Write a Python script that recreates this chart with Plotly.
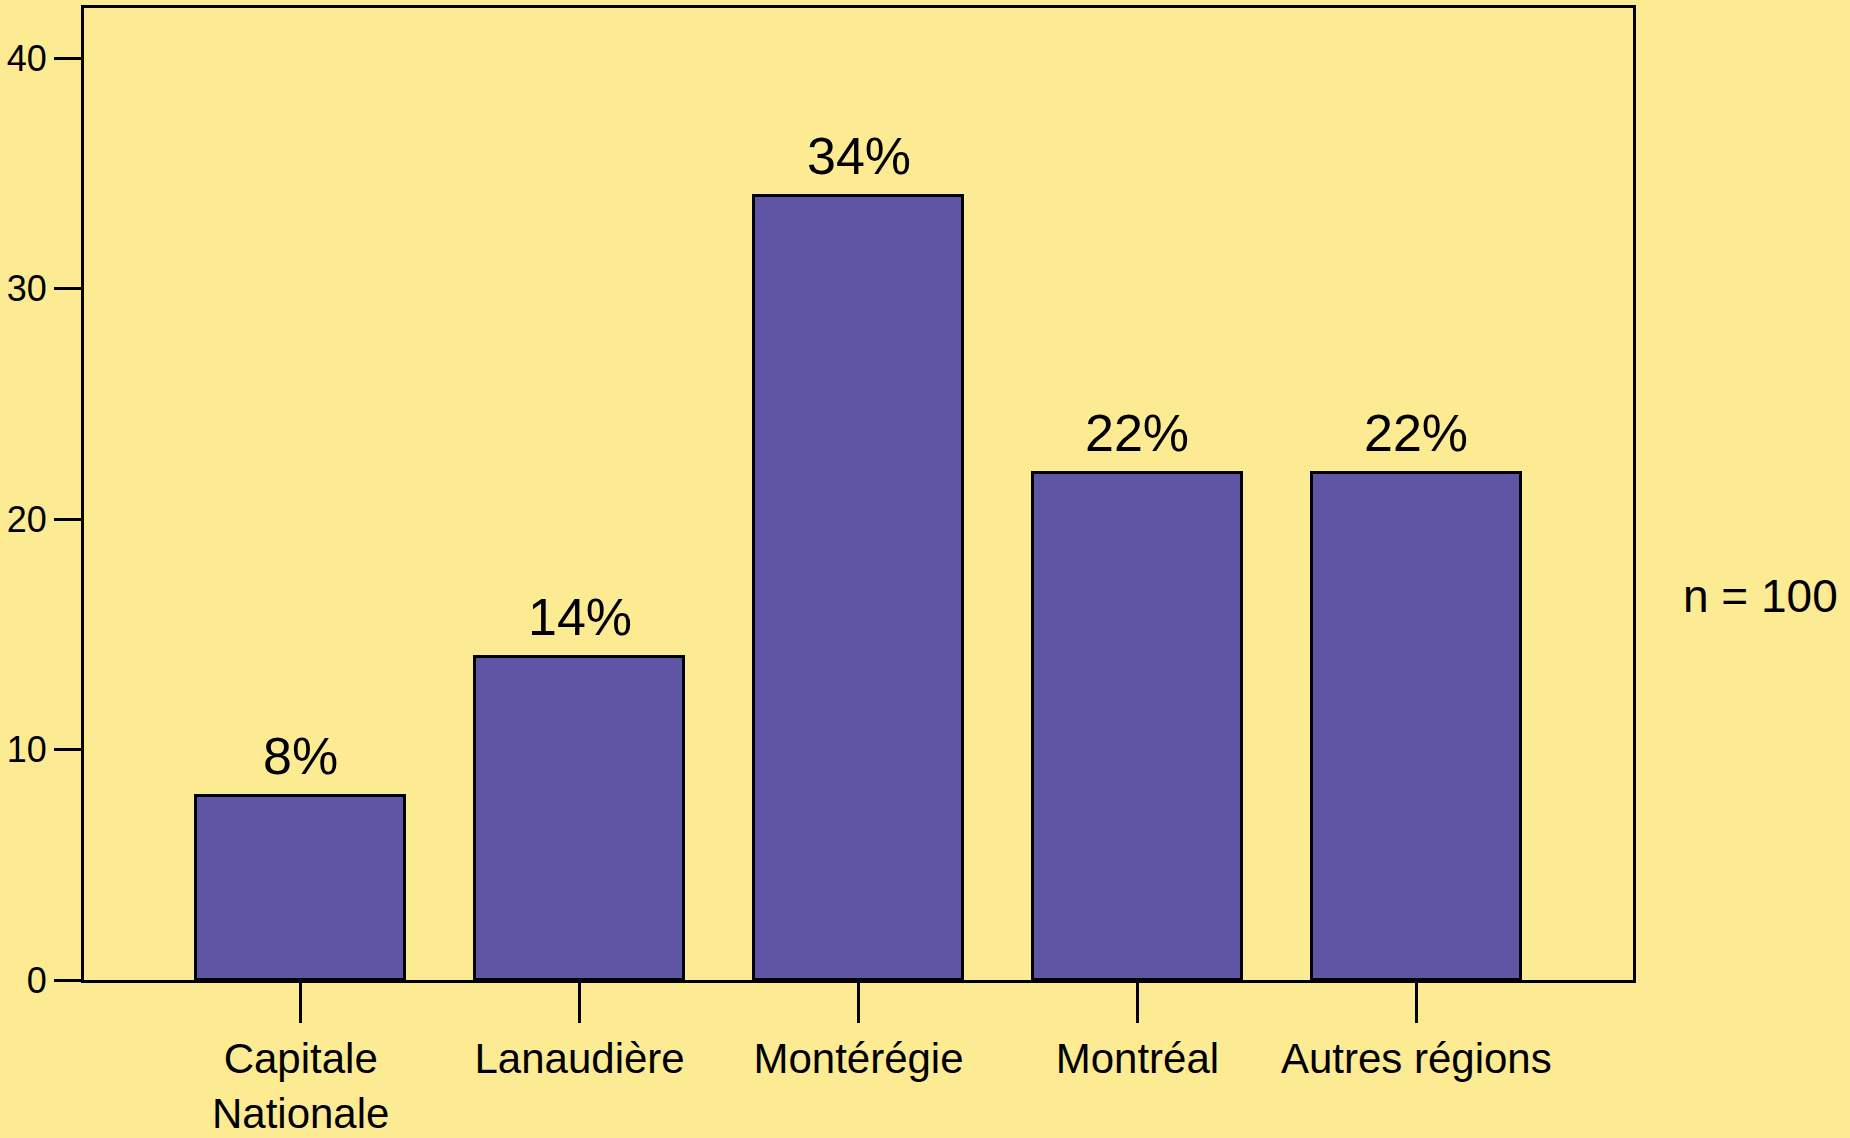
import plotly.graph_objects as go

categories = ["Capitale<br>Nationale", "Lanaudière", "Montérégie", "Montréal", "Autres régions"]
values = [8, 14, 34, 22, 22]
labels = ["8%", "14%", "34%", "22%", "22%"]
y_ticks = [0, 10, 20, 30, 40]
n_label = "n = 100"

BG = "#fdeb94"
BAR = "#5e56a4"
FONT = "Liberation Sans, Arial, sans-serif"

x_idx = list(range(len(categories)))

fig = go.Figure()
fig.add_trace(go.Bar(
    x=x_idx, y=values, width=0.75,
    marker=dict(color=BAR, line=dict(color="black", width=3)),
    hoverinfo="skip",
))

for xi, v, t in zip(x_idx, values, labels):
    fig.add_annotation(x=xi, y=v, text=t, showarrow=False, yanchor="bottom",
                       yshift=9, font=dict(family=FONT, size=52, color="black"))

fig.add_annotation(xref="paper", yref="paper", x=1.031, y=0.395, xanchor="left",
                   yanchor="middle", text=n_label, showarrow=False,
                   font=dict(family=FONT, size=46, color="black"))

fig.update_layout(
    width=1850, height=1138,
    paper_bgcolor=BG, plot_bgcolor=BG,
    margin=dict(l=84, r=217, t=8, b=158, autoexpand=False),
    showlegend=False,
    font=dict(family=FONT, color="black"),
    bargap=0,
)
fig.update_xaxes(
    range=[-0.777, 4.777], tickmode="array", tickvals=x_idx, ticktext=categories,
    ticks="outside", ticklen=40, tickwidth=2.5, tickcolor="black",
    showline=True, linecolor="black", linewidth=3, mirror=True,
    showgrid=False, zeroline=False, automargin=False,
    tickfont=dict(family=FONT, size=42, color="black"),
)
fig.update_yaxes(
    range=[0, 42.17], tickmode="array", tickvals=y_ticks,
    ticks="outside", ticklen=27, tickwidth=2.5, tickcolor="black",
    showline=True, linecolor="black", linewidth=3, mirror=True,
    showgrid=False, zeroline=False, automargin=False,
    tickfont=dict(family=FONT, size=36, color="black"),
)

fig.write_html("out.html", config={"displayModeBar": False},
               post_script="document.body.style.margin='0';document.body.style.overflow='hidden';")
